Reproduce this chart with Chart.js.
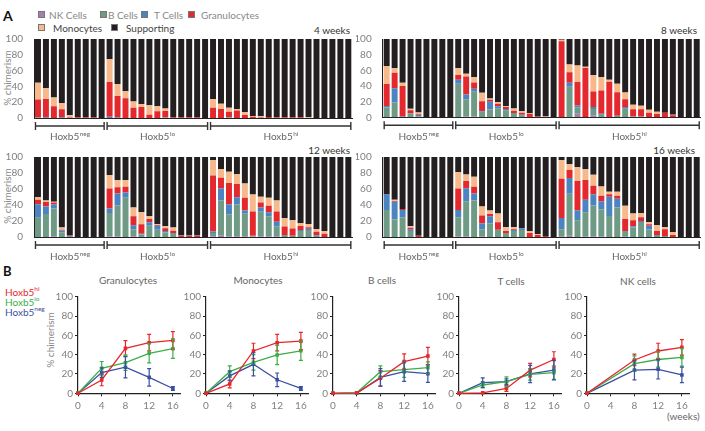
<!DOCTYPE html>
<html><head><meta charset="utf-8">
<script src="https://cdn.jsdelivr.net/npm/chart.js@4.4.1/dist/chart.umd.min.js"></script>
<style>
html,body{margin:0;padding:0;background:#fff}
body{width:705px;height:431px;position:relative;overflow:hidden;font-family:Lato,'Open Sans',sans-serif}
canvas{position:absolute}
.t{position:absolute;white-space:nowrap;line-height:1;font-size:10px}
.sw{position:absolute;width:5px;height:5px;border:1px solid #777}
.rot{position:absolute;white-space:nowrap;line-height:1;font-size:10px;color:#888;transform:translate(-50%,-50%) rotate(-90deg)}
sup{font-size:6.5px;vertical-align:top;position:relative;top:-1px}
</style></head><body>
<div class="t" style="left:3px;top:9px;font-weight:bold;font-size:14px;color:#111">A</div>
<div class="t" style="left:3px;top:265px;font-weight:bold;font-size:13px;color:#111">B</div>

<div class="sw" style="left:38px;top:11px;background:#a77fae"></div><div class="t" style="left:49px;top:10px;color:#888">NK Cells</div>
<div class="sw" style="left:100px;top:11px;background:#6f9a85"></div><div class="t" style="left:108px;top:10px;color:#888">B Cells</div>
<div class="sw" style="left:141px;top:11px;background:#4c84c1"></div><div class="t" style="left:154px;top:10px;color:#888">T Cells</div>
<div class="sw" style="left:188px;top:11px;background:#e3292d"></div><div class="t" style="left:201px;top:10px;color:#888">Granulocytes</div>
<div class="sw" style="left:38px;top:24px;background:#f8b98a"></div><div class="t" style="left:53px;top:23px;color:#444">Monocytes</div>
<div class="sw" style="left:111px;top:24px;background:#231f20"></div><div class="t" style="left:126px;top:23px;color:#444">Supporting</div>

<div class="t" style="right:355px;top:25px;color:#333">4 weeks</div>
<div class="t" style="right:8px;top:25px;color:#333">8 weeks</div>
<div class="t" style="right:355px;top:145px;color:#333">12 weeks</div>
<div class="t" style="right:10px;top:145px;color:#333">16 weeks</div>
<div class="rot" style="left:7px;top:78px">% chimerism</div>
<div class="rot" style="left:7px;top:196px">% chimerism</div>
<div class="rot" style="left:50px;top:340px">% chimerism</div>

<div class="t" style="left:5px;top:287px;color:#e8262a">Hoxb5<sup>hi</sup></div>
<div class="t" style="left:5px;top:297px;color:#3cae45">Hoxb5<sup>lo</sup></div>
<div class="t" style="left:5px;top:307px;color:#3a4fa3">Hoxb5<sup>neg</sup></div>

<div class="t" style="left:128px;top:275px;color:#666;transform:translateX(-50%)">Granulocytes</div>
<div class="t" style="left:258px;top:275px;color:#666;transform:translateX(-50%)">Monocytes</div>
<div class="t" style="left:382px;top:275px;color:#666;transform:translateX(-50%)">B cells</div>
<div class="t" style="left:511px;top:276px;color:#666;transform:translateX(-50%)">T cells</div>
<div class="t" style="left:638px;top:276px;color:#666;transform:translateX(-50%)">NK cells</div>
<div class="t" style="left:667px;top:411px;color:#666">(weeks)</div>

<script>
const F = 'Lato, "Open Sans", sans-serif';

// ---------- Panel A data ----------
const groupNames = ['neg', 'lo', 'hi'];
const groupSizes = [9, 13, 18];
const categories = ['n1','n2','n3','n4','n5','n6','n7','n8','n9',
  'l1','l2','l3','l4','l5','l6','l7','l8','l9','l10','l11','l12','l13',
  'h1','h2','h3','h4','h5','h6','h7','h8','h9','h10','h11','h12','h13','h14','h15','h16','h17','h18'];

// 4 weeks
const nk4 = [0,0,0,0,0,0,0,0,0, 0,0,0,0,0,0,0,0,0,0,0,0,0, 0,0,0,0,0,0,0,0,0,0,0,0,0,0,0,0,0,0];
const b4 = [0.5,0,0,0,0,0,0,0,0, 0,0,0,0,0,0,0,1,0,0,0,0,0, 0,0,1,0,0,0,0,0,0,0,0,0,0,0,0,0,0,0];
const t4 = [0,1,0,1,0,0,0,0,0, 1.5,1,0,0,0,0,0,0,0,0,0,0,0, 0,0,0,0,0,0,0,0,0,0,0,0,0,0,0,0,0,0];
const gran4 = [23,23,15,10,0.5,1,1,0.7,0, 44,27,25,13,14,4,8.5,8,1,1,0.8,0.8,0, 13,11.5,7,9.4,3.8,1.7,0.5,1.3,0.8,0.8,0.8,0.8,0,0,0,0,0,0];
const mono4 = [21,14,11,8,3,0,0,0,0, 29,15,9,8,3.5,12,6.5,3,0,0,0,0,0, 11,6.5,5,1.8,3.9,0.8,2,0,0.4,0,0,0,0.8,0,0,0,0,0];
const sup4 = [55.5,62,74,81,96.5,99,99,99.3,100, 25.5,57,66,79,82.5,84,85,88,99,99,99.2,99.2,100, 76,82,87,88.8,92.3,97.5,97.5,98.7,98.8,99.2,99.2,99.2,99.2,100,100,100,100,100];

// 8 weeks
const nk8 = [0.5,0,0,0,0,0,0,0,0, 0,1,1,0,0,0,0,0,0,0,0,0,0, 0,0,4.6,0,2.5,0,0,0,0,0,0,0,0,0,0,0,0,0];
const b8 = [12,19,0,5,1,0,0,0,0, 43,22,31.5,7,10,11.7,9,5.5,2,0,0,0,0, 0,39,8,0,8,3.3,0,2,11,1,1,0,0,0,0,0,0,0];
const t8 = [2,18,1,0,2,0,0,0,0, 5,6,4,1,10,2.5,1.5,0,1.3,0,0,0,0, 0,5,2.5,0,2.5,1.3,0,0,2,0,0,0,0,0,0,0,0,0];
const gran8 = [28,20,39,4,1,0,0,0,0, 6,23,8,12.5,2.5,3,2.5,3,2.6,4.6,1,0.5,0, 97,13.5,30,63,20,29.5,45.4,30,10,9.4,9.4,5.8,4.2,5.8,2.5,0,0,0];
const mono8 = [23,5.5,4,2,2,0,0,0,0, 9,3.5,7,11,1.5,2,1,2.7,2,0.8,0,0.5,0, 2,10,21,1.6,21,17.5,2.6,11,8.7,5.6,4.2,3.8,2.8,0,0.8,0,0,0];
const sup8 = [34.5,37.5,56,89,94,100,100,100,100, 37,44.5,48.5,68.5,76,80.8,86,88.8,92.1,94.6,99,99,100, 1,32.5,33.9,35.4,46,48.4,52,57,68.3,84,85.4,90.4,93,94.2,96.7,100,100,100];

// 12 weeks
const nk12 = [0,0,1,0,0,0,0,0,0, 1,1,0,1,0,0,0,0,0,0,0,0,0, 1,1.5,1,1,1,0.5,1,1,1,0,0,0,0,0,0,0,0,0];
const b12 = [24,28.7,34.6,6,0,0,0,0,0, 29,38.3,49,8.8,3,14,9,5.7,5,0,0,0,0, 4,44.5,27.3,39.6,28,1.1,30.5,25,12.5,2.5,1.6,7.4,8.6,1.6,0,0,0,0];
const t12 = [17,9.5,5,2,1,0,0,0,0, 5.7,15,6.7,5,1,4.4,5,1.7,0,0,0,0,0, 2,14.6,12.7,9,4,0,5.5,5,5.5,0,0,1.2,1.6,1,0,0,0,0];
const gran12 = [5.5,5.5,2.5,1,1,0,0,0,0, 25,8,7,11,12,4,1,3.6,2.8,1.5,1.5,1.5,0, 70,13.4,26.6,16.8,16,30.4,6,8,13,10.5,9,5,2,4,4,0,0,0];
const mono12 = [3.5,2,1,3,0,0,0,0,0, 16.8,8.6,8.6,11,15,3.5,1,2.5,4,0.5,0.5,0.5,0, 19,11,14,12.3,17.8,21,7.4,10,13.5,10.3,10.3,3.5,4,3.3,3.4,0,0,0];
const sup12 = [50,54.3,55.9,88,98,100,100,100,100, 22.5,29.1,28.7,63.2,69,74.1,84,86.5,88.2,98,98,98,100, 4,15,18.4,21.3,33.2,47,49.6,51,54.5,76.7,79.1,82.9,83.8,90.1,92.6,100,100,100];

// 16 weeks
const nk16 = [0,0,0,0,0,0,0,0,0, 1,1,0,1,0,0,0,0,0,0,0,0,0, 1,1.5,0,1,1,1,0,0,1,0,0,0,0,0,0,0,0,0];
const b16 = [33.6,22,24.6,7.4,0,0,0,0,0, 23.6,43.7,45.5,8.8,17,9,4.9,7.4,8.6,0,0,0,0, 8.8,52.5,21,30,38.3,33.4,26.2,36.9,6.4,11.9,18.9,9.4,2.5,1.2,0,0,0,0];
const t16 = [19.4,22,9,2.4,0,0,0,0,0, 9,16.3,9,7.2,8.8,0,0,1.2,2.4,0,0,0,0, 14,19.8,12,15.7,13.7,10.3,24.2,11,0,1.6,1.2,4.6,0,0,0,0,0,0];
const gran16 = [0,1,1.4,1.7,1.6,0,0,0,0, 27,9,8.2,10,2.9,9.4,2.5,1.2,0,4.9,2.5,1.2,0, 49,9.8,37,24.6,11,7,3,3.7,15,7.4,4.6,2,4.9,8.6,2.5,0,0,0];
const mono16 = [0,1.7,0,2,0,0,0,0,0, 20.3,8,12.7,11,4.3,11,4.9,2.5,0,2.5,1.2,0,0, 23,7.4,17.3,13.5,13.9,11.4,3.3,5,16.8,8.6,4.9,2.4,7.4,2.5,3.6,0,0,0];
const sup16 = [47,53.3,65,86.5,98.4,100,100,100,100, 19.1,22,24.6,62,67,70.6,87.7,87.7,89,92.6,96.3,98.8,100, 4.2,9,12.7,15.2,22.1,36.9,43.3,43.4,60.8,70.5,70.4,81.6,85.2,87.7,93.9,100,100,100];

// ---------- Panel B data ----------
const weeks = [0, 4, 8, 12, 16];
const weeksNK = [0, 8, 12, 16];
const granHi = [0,13.8,46.5,52.4,54.8],  granHiErr = [0,6,8,8.5,9];
const granLo = [0,25.9,31.7,41.4,46.2],  granLoErr = [0,7,8,10,10];
const granNeg = [0,21.4,27,16.5,5],      granNegErr = [0,5,11,9,2];
const monoHi = [0,9.7,43.8,52.4,54],     monoHiErr = [0,4,8,8.5,9];
const monoLo = [0,22.4,32,39.7,44],      monoLoErr = [0,6,8,10,10];
const monoNeg = [0,18,30,14,5],          monoNegErr = [0,5,12,7,2];
const bHi = [0,0.5,15.5,32.8,38.6],      bHiErr = [0,0,8,8,9];
const bLo = [0,0.5,22.4,24.5,26.5],      bLoErr = [0,0,6,8,6];
const bNeg = [0,0,16.5,22.4,20.3],       bNegErr = [0,0,9,10,9];
const tHi = [0,0.5,5,24,35],             tHiErr = [0,0,3,7,8];
const tLo = [0,8.6,12,19.6,21.4],        tLoErr = [0,3,5,6,7];
const tNeg = [0,11,12,20,24],            tNegErr = [0,5,3,9,10];
const nkHi = [0,34.5,43.8,47.6],         nkHiErr = [0,6,8,8];
const nkLo = [0,30.7,35,37.2],           nkLoErr = [0,8,8,9];
const nkNeg = [0,24,24.8,19],            nkNegErr = [0,10,10,8];

const C = {nk:'#a77fae', b:'#6f9a85', t:'#4c84c1', g:'#e3292d', m:'#f8b98a', s:'#231f20',
  hi:'#e8262a', lo:'#3cae45', neg:'#3a4fa3'};

function mk(x, y, w, h) {
  const c = document.createElement('canvas');
  c.width = w; c.height = h;
  c.style.left = x + 'px'; c.style.top = y + 'px';
  c.style.width = w + 'px'; c.style.height = h + 'px';
  document.body.appendChild(c);
  return c;
}

const bracketPlugin = {
  id: 'brackets',
  afterDraw(ch, args, o) {
    const xs = ch.scales.x, ctx = ch.ctx, bot = ch.chartArea.bottom, yb = bot + o.dy;
    let i = 0;
    ctx.save();
    ctx.strokeStyle = '#333'; ctx.lineWidth = 1.4;
    groupSizes.forEach((n, g) => {
      const x0 = xs.getPixelForValue(i) - 2.5, x1 = xs.getPixelForValue(i + n - 1) + 2.5;
      ctx.beginPath();
      ctx.moveTo(x0, yb); ctx.lineTo(x1, yb);
      ctx.moveTo(x0, yb - 4); ctx.lineTo(x0, yb + 4);
      ctx.moveTo(x1, yb - 4); ctx.lineTo(x1, yb + 4);
      ctx.stroke();
      const cx = (x0 + x1) / 2;
      ctx.font = '10px ' + F; const w1 = ctx.measureText('Hoxb5').width;
      ctx.font = '6.5px ' + F; const w2 = ctx.measureText(groupNames[g]).width;
      const sx = cx - (w1 + w2) / 2;
      ctx.fillStyle = '#666'; ctx.textBaseline = 'alphabetic'; ctx.textAlign = 'left';
      ctx.font = '10px ' + F; ctx.fillText('Hoxb5', sx, bot + o.ly);
      ctx.font = '6.5px ' + F; ctx.fillText(groupNames[g], sx + w1 + 0.5, bot + o.ly - 4);
      i += n;
    });
    ctx.restore();
  }
};

function barChart(rect, area, d, ly) {
  const c = mk(rect.x, rect.y, rect.w, rect.h);
  const series = [[d.nk, C.nk], [d.b, C.b], [d.t, C.t], [d.g, C.g], [d.m, C.m], [d.s, C.s]];
  new Chart(c, {
    type: 'bar',
    data: { labels: categories, datasets: series.map(([v, col]) => ({
      data: v, backgroundColor: col, borderWidth: 0, barPercentage: 0.75, categoryPercentage: 1 })) },
    options: {
      responsive: false, animation: false, devicePixelRatio: 1,
      layout: { padding: { left: 0, top: area.t - rect.y, right: rect.x + rect.w - area.r, bottom: 0 } },
      plugins: { legend: { display: false }, tooltip: { enabled: false }, brackets: { dy: 8, ly: ly } },
      scales: {
        x: { stacked: true, grid: { display: false }, border: { display: true, color: '#222', width: 1 },
             ticks: { display: false }, afterFit: s => { s.height = rect.y + rect.h - area.b; } },
        y: { stacked: true, min: 0, max: 100, grid: { display: false },
             border: { display: true, color: '#222', width: 1 },
             ticks: { stepSize: 20, color: '#808080', font: { family: F, size: 10 }, padding: 3 },
             afterFit: s => { s.width = area.l - rect.x; } }
      }
    },
    plugins: [bracketPlugin]
  });
}

barChart({x:0, y:30, w:356, h:120}, {l:34, t:39, r:352.3, b:118},
  {nk:nk4, b:b4, t:t4, g:gran4, m:mono4, s:sup4}, 21.5);
barChart({x:356, y:30, w:349, h:120}, {l:382.7, t:37.5, r:700.7, b:117.3},
  {nk:nk8, b:b8, t:t8, g:gran8, m:mono8, s:sup8}, 22.5);
barChart({x:0, y:148, w:356, h:122}, {l:34, t:155.7, r:352.3, b:237},
  {nk:nk12, b:b12, t:t12, g:gran12, m:mono12, s:sup12}, 23);
barChart({x:356, y:148, w:349, h:122}, {l:382.7, t:155.7, r:700.7, b:237},
  {nk:nk16, b:b16, t:t16, g:gran16, m:mono16, s:sup16}, 23);

const errPlugin = {
  id: 'errs',
  afterDatasetsDraw(ch) {
    const ctx = ch.ctx, ys = ch.scales.y;
    ctx.save();
    ch.data.datasets.forEach((ds, di) => {
      const meta = ch.getDatasetMeta(di);
      ctx.strokeStyle = ds.borderColor; ctx.lineWidth = 1.2;
      meta.data.forEach((pt, i) => {
        const e = ds.errs[i]; if (!e) return;
        const v = ds.data[i].y;
        const y0 = ys.getPixelForValue(v - e), y1 = ys.getPixelForValue(v + e);
        ctx.beginPath();
        ctx.moveTo(pt.x, y0); ctx.lineTo(pt.x, y1);
        ctx.moveTo(pt.x - 2, y0); ctx.lineTo(pt.x + 2, y0);
        ctx.moveTo(pt.x - 2, y1); ctx.lineTo(pt.x + 2, y1);
        ctx.stroke();
      });
    });
    ctx.restore();
  }
};

function lineChart(areaL, xs, sets) {
  const rect = {x: areaL - 40, y: 285, w: 150, h: 130};
  const area = {l: areaL, t: 296.7, r: areaL + 102, b: 393.3};
  const c = mk(rect.x, rect.y, rect.w, rect.h);
  const axisGrid = { display: true, drawOnChartArea: false, drawTicks: true, tickLength: 3, color: '#222' };
  new Chart(c, {
    type: 'line',
    data: { datasets: sets.map(([v, e, col]) => ({
      data: xs.map((x, i) => ({ x: x, y: v[i] })), errs: e,
      borderColor: col, backgroundColor: col, borderWidth: 1.3,
      pointRadius: 1.6, pointStyle: 'rect', tension: 0, clip: 8 })) },
    options: {
      responsive: false, animation: false, devicePixelRatio: 1,
      layout: { padding: { left: 0, top: area.t - rect.y, right: rect.x + rect.w - area.r, bottom: 0 } },
      plugins: { legend: { display: false }, tooltip: { enabled: false } },
      scales: {
        x: { type: 'linear', min: 0, max: 17.2, grid: axisGrid, border: { display: true, color: '#222', width: 1.2 },
             ticks: { stepSize: 4, includeBounds: false, color: '#808080', font: { family: F, size: 10 }, padding: 3, maxRotation: 0 },
             afterFit: s => { s.height = rect.y + rect.h - area.b; } },
        y: { min: 0, max: 100, grid: axisGrid, border: { display: true, color: '#222', width: 1.2 },
             ticks: { stepSize: 20, color: '#808080', font: { family: F, size: 10 }, padding: 2 },
             afterFit: s => { s.width = area.l - rect.x; } }
      }
    },
    plugins: [errPlugin]
  });
}

lineChart(78, weeks, [[granHi, granHiErr, C.hi], [granLo, granLoErr, C.lo], [granNeg, granNegErr, C.neg]]);
lineChart(205.7, weeks, [[monoHi, monoHiErr, C.hi], [monoLo, monoLoErr, C.lo], [monoNeg, monoNegErr, C.neg]]);
lineChart(333, weeks, [[bHi, bHiErr, C.hi], [bLo, bLoErr, C.lo], [bNeg, bNegErr, C.neg]]);
lineChart(459, weeks, [[tHi, tHiErr, C.hi], [tLo, tLoErr, C.lo], [tNeg, tNegErr, C.neg]]);
lineChart(587, weeksNK, [[nkHi, nkHiErr, C.hi], [nkLo, nkLoErr, C.lo], [nkNeg, nkNegErr, C.neg]]);
</script>
</body></html>
